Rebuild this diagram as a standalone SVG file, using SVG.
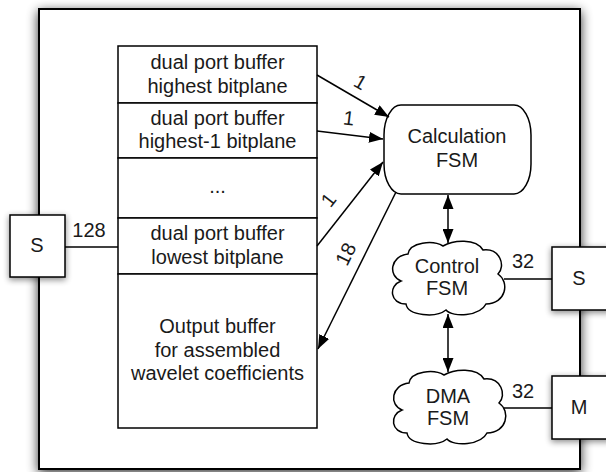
<svg xmlns="http://www.w3.org/2000/svg" width="606" height="472" viewBox="0 0 606 472">
  <defs>
    <filter id="soft" x="-20%" y="-20%" width="140%" height="140%">
      <feGaussianBlur stdDeviation="6"/>
    </filter>
    <filter id="softSmall" x="-50%" y="-50%" width="200%" height="200%">
      <feGaussianBlur stdDeviation="3"/>
    </filter>
    <marker id="arrow" viewBox="0 0 14 11" refX="14" refY="5.5" markerWidth="14" markerHeight="11" markerUnits="userSpaceOnUse" orient="auto-start-reverse">
      <path d="M0,0 L14,5.5 L0,11 Z" fill="#000"/>
    </marker>
    <path id="cloud" d="M -47,3 C -60,-2 -58,-22 -40,-24 C -38,-36 -15,-38 -5,-32 C 5,-38 28,-40 35,-28 C 52,-30 58,-12 50,-4 C 62,4 58,26 38,26 C 32,38 5,40 -2,32 C -12,40 -40,38 -42,26 C -58,26 -60,8 -47,3 Z"/>
  </defs>
  <style>
    .box { fill: #fff; stroke: #000; stroke-width: 1.5; }
    .line { fill: none; stroke: #000; stroke-width: 1.5; }
    .arr { fill: none; stroke: #000; stroke-width: 1.5; marker-end: url(#arrow); }
    .both { marker-start: url(#arrow); }
    .drop { fill: #000; }
    text { font-family: "Liberation Sans", Arial, sans-serif; font-size: 20px; fill: #1a1a1a; text-anchor: middle; }
  </style>

  <!-- enclosing module with drop shadow -->
  <g id="module">
    <rect class="drop" x="38" y="11" width="543" height="462" opacity="0.8" filter="url(#soft)"/>
    <rect x="39" y="9" width="541" height="460" fill="#fff" stroke="#000" stroke-width="2"/>
  </g>

  <!-- stacked buffers -->
  <g id="buffer-highest">
    <rect class="box" x="118" y="46" width="199" height="57"/>
    <text x="217.5" y="69">dual port buffer</text>
    <text x="217.5" y="93">highest bitplane</text>
  </g>
  <g id="buffer-highest-1">
    <rect class="box" x="118" y="103" width="199" height="55"/>
    <text x="217.5" y="125">dual port buffer</text>
    <text x="217.5" y="148">highest-1 bitplane</text>
  </g>
  <g id="buffer-dots">
    <rect class="box" x="118" y="158" width="199" height="60"/>
    <text x="217.5" y="193">...</text>
  </g>
  <g id="buffer-lowest">
    <rect class="box" x="118" y="218" width="199" height="56"/>
    <text x="217.5" y="240">dual port buffer</text>
    <text x="217.5" y="264">lowest bitplane</text>
  </g>
  <g id="output-buffer">
    <rect class="box" x="118" y="274" width="199" height="154"/>
    <text x="217.5" y="333">Output buffer</text>
    <text x="217.5" y="357">for assembled</text>
    <text x="217.5" y="380">wavelet coefficients</text>
  </g>

  <!-- state machines -->
  <g id="calculation-fsm">
    <rect class="box" x="384" y="105" width="147" height="89" rx="17" ry="30"/>
    <text x="457" y="143">Calculation</text>
    <text x="457" y="167">FSM</text>
  </g>
  <g id="control-fsm">
    <use href="#cloud" class="box" transform="translate(448,278)"/>
    <text x="447" y="273">Control</text>
    <text x="447" y="295">FSM</text>
  </g>
  <g id="dma-fsm">
    <use href="#cloud" class="box" transform="translate(449,407)"/>
    <text x="448" y="403">DMA</text>
    <text x="448" y="425">FSM</text>
  </g>

  <!-- bus ports -->
  <g id="port-s-left">
    <rect class="drop" x="9" y="216" width="57" height="64" opacity="0.45" filter="url(#softSmall)"/>
    <rect class="box" x="10" y="215" width="55" height="62"/>
    <text x="37" y="252">S</text>
  </g>
  <g id="port-s-right">
    <rect class="drop" x="551" y="248" width="60" height="65" opacity="0.45" filter="url(#softSmall)"/>
    <rect class="box" x="552" y="247" width="58" height="63"/>
    <text x="579" y="285">S</text>
  </g>
  <g id="port-m">
    <rect class="drop" x="551" y="377" width="60" height="65" opacity="0.45" filter="url(#softSmall)"/>
    <rect class="box" x="552" y="376" width="58" height="63"/>
    <text x="579" y="414">M</text>
  </g>

  <!-- connectors -->
  <g id="connectors">
    <line class="line" x1="65" y1="247" x2="118" y2="247"/>
    <text x="89" y="237">128</text>

    <line class="line" x1="504" y1="279" x2="552" y2="279"/>
    <text x="523" y="268">32</text>

    <line class="line" x1="504" y1="408" x2="552" y2="408"/>
    <text x="523" y="398">32</text>

    <line class="arr" x1="317" y1="75" x2="389" y2="117"/>
    <text transform="translate(357,88) rotate(30)" x="0" y="0">1</text>

    <line class="arr" x1="317" y1="131" x2="383" y2="139"/>
    <text transform="translate(348,125) rotate(7)" x="0" y="0">1</text>

    <line class="arr" x1="317" y1="246" x2="383" y2="162"/>
    <text transform="translate(334,204) rotate(-52)" x="0" y="0">1</text>

    <line class="arr" x1="396" y1="192" x2="318" y2="349"/>
    <text transform="translate(352,257) rotate(-64)" x="0" y="0">18</text>

    <line class="arr both" x1="448" y1="195" x2="448" y2="243"/>
    <line class="arr both" x1="448" y1="314" x2="448" y2="372"/>
  </g>
</svg>
